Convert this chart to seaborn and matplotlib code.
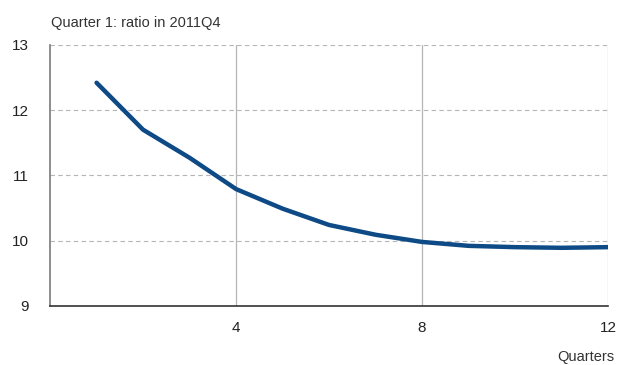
import pandas as pd
import matplotlib.pyplot as plt
import seaborn as sns

quarters = [1, 2, 3, 4, 5, 6, 7, 8, 9, 10, 11, 12]
ratio = [12.42, 11.70, 11.27, 10.79, 10.49, 10.24, 10.09, 9.98, 9.92, 9.90, 9.89, 9.90]
x_ticks = [4, 8, 12]
y_ticks = [9, 10, 11, 12, 13]

df = pd.DataFrame({'quarter': quarters, 'ratio': ratio})

sns.set_style('white')
plt.rcParams['font.family'] = ['Liberation Sans', 'DejaVu Sans']

fig = plt.figure(figsize=(6.18, 3.65), dpi=100)
ax = fig.add_axes([0.081, 0.162, 0.903, 0.715])

sns.lineplot(x='quarter', y='ratio', data=df, color='#0e4a86', linewidth=3.2, ax=ax)

ax.set_xlim(0, 12)
ax.set_ylim(9, 13)
ax.set_xticks(x_ticks)
ax.set_yticks(y_ticks)

for y in y_ticks[1:]:
    ax.axhline(y, color='#b5b5b5', linewidth=0.8, linestyle=(0, (4, 3)), zorder=0)
for x in x_ticks:
    ax.axvline(x, color='#b5b5b5', linewidth=0.9, zorder=0)

for s in ['top', 'right']:
    ax.spines[s].set_visible(False)
ax.spines['left'].set_color('#7a7a7a')
ax.spines['left'].set_linewidth(1.2)
ax.spines['bottom'].set_color('#333333')
ax.spines['bottom'].set_linewidth(1.2)

ax.tick_params(axis='both', direction='in', length=4, width=1, color='#333333',
               labelsize=11, labelcolor='#222222')
ax.tick_params(axis='x', pad=11)
ax.tick_params(axis='y', pad=15)

ax.set_xlabel('')
ax.set_ylabel('')
fig.text(0.083, 0.926, 'Quarter 1: ratio in 2011Q4', fontsize=10.5, color='#333333', va='baseline', ha='left')
fig.text(0.994, 0.012, 'Quarters', fontsize=10.5, color='#333333', va='baseline', ha='right')

fig.savefig('out.png', dpi=100)
